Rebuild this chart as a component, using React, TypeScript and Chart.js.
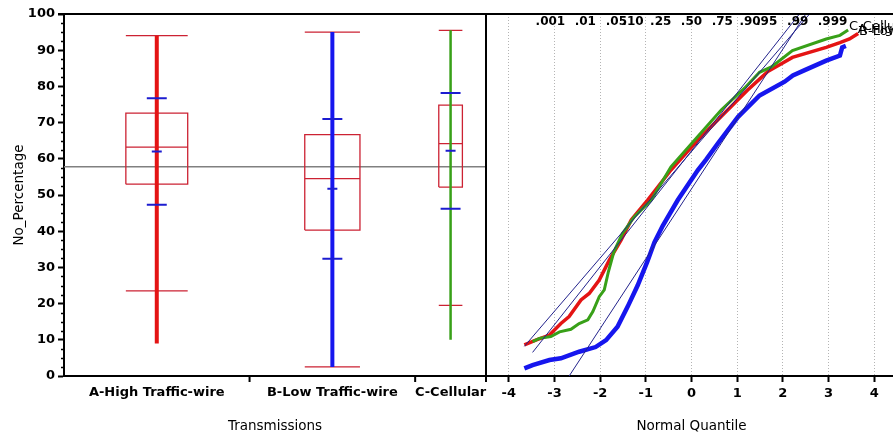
import React, { useEffect, useRef } from 'react';
import { Chart, registerables } from 'chart.js';

Chart.register(...registerables);

// ---------- data: one-way analysis (left panel) ----------
const groupNames = ['A-High Traffic-wire', 'B-Low Traffic-wire', 'C-Cellular'];
const groupWidths = [186, 166, 71]; // group widths (proportional to sample size)
const groupColors = ['#e41414', '#1616ee', '#38a018'];
const pointMin = [9, 2.5, 10];
const pointMax = [94, 95, 95.5];
const whiskerLow = [23.5, 2.5, 19.5];
const whiskerHigh = [94, 95, 95.5];
const quartile1 = [53, 40.3, 52.2];
const medianVals = [63.2, 54.5, 64.2];
const quartile3 = [72.6, 66.7, 74.8];
const meanVals = [62, 51.7, 62.2];
const sdVals = [14.7, 19.3, 16.0];
const grandMean = 57.8;

// ---------- data: normal quantile plot (right panel) ----------
const quantileTicks = [-4, -3, -2, -1, 0, 1, 2, 3, 4];
const probLabels = ['.001', '.01', '.05', '.10', '.25', '.50', '.75', '.90', '.95', '.99', '.999'];
const probQuantiles = [-3.09, -2.326, -1.645, -1.282, -0.674, 0, 0.674, 1.282, 1.645, 2.326, 3.09];

const quantA = [-3.66, -3.41, -3.11, -2.86, -2.68, -2.42, -2.24, -2.02, -1.8, -1.54, -1.32, -1.07, -0.96, -0.45, -0.26, 0.14, 0.72, 1.23, 1.49, 1.67, 2.21, 2.95, 3.25, 3.46, 3.65];
const valueA = [8.6, 9.9, 11.3, 14.5, 16.4, 21, 22.8, 26.5, 32, 37.6, 43.1, 46.9, 48.6, 56.9, 59.6, 65.2, 72.6, 79, 82, 84.1, 88, 90.8, 92.1, 93.1, 94.6];

const quantB = [-3.66, -3.48, -3.11, -2.86, -2.46, -2.1, -1.87, -1.62, -1.4, -1.18, -0.97, -0.81, -0.63, -0.3, 0.14, 0.32, 0.58, 1.02, 1.49, 2.04, 2.22, 2.48, 2.95, 3.25, 3.3, 3.38];
const valueB = [2.1, 3.0, 4.4, 4.9, 6.7, 8.0, 9.9, 13.6, 19.1, 25, 31.5, 37, 41.5, 48.6, 56.9, 59.8, 64.3, 71.6, 77.5, 81.3, 83, 84.5, 87.1, 88.5, 90.8, 91.2];

const quantC = [-3.48, -3.33, -3.08, -2.89, -2.64, -2.46, -2.27, -2.16, -2.02, -1.91, -1.82, -1.7, -1.51, -1.25, -0.88, -0.45, 0.07, 0.65, 1.16, 1.49, 1.75, 2.21, 2.95, 3.25, 3.43];
const valueC = [9.5, 10.4, 10.9, 12.2, 12.9, 14.5, 15.5, 17.8, 21.9, 23.8, 28.8, 34.3, 39.4, 44, 48.6, 57.8, 65.2, 73.5, 79.5, 83.9, 85.4, 89.9, 93.1, 94.1, 95.6];

const FONT = "'DejaVu Sans', sans-serif";
Chart.defaults.font.family = FONT;
Chart.defaults.font.size = 13;
Chart.defaults.color = '#000';

const tickFont = { family: FONT, size: 13, weight: 'bold' };
const titleFont = { family: FONT, size: 13.5, weight: 'normal' };

type P = { x: number; y: number | null };
const seg = (x1: number, y1: number, x2: number, y2: number): P[] => [
  { x: x1, y: y1 },
  { x: x2, y: y2 },
  { x: x2, y: null },
];

export default function App() {
  const leftRef = useRef<HTMLCanvasElement>(null);
  const rightRef = useRef<HTMLCanvasElement>(null);

  useEffect(() => {
    const total = groupWidths.reduce((a, b) => a + b, 0);
    const starts = groupWidths.map((_, i) => groupWidths.slice(0, i).reduce((a, b) => a + b, 0));
    const centers = starts.map((s, i) => s + groupWidths[i] / 2);
    const bounds = starts.map((s, i) => s + groupWidths[i]);

    const boxData: P[] = [];
    const sdData: P[] = [];
    groupNames.forEach((_, i) => {
      const c = centers[i];
      const hw = groupWidths[i] / 6;
      boxData.push(
        { x: c - hw, y: quartile1[i] },
        { x: c + hw, y: quartile1[i] },
        { x: c + hw, y: quartile3[i] },
        { x: c - hw, y: quartile3[i] },
        { x: c - hw, y: quartile1[i] },
        { x: c - hw, y: null },
      );
      boxData.push(...seg(c - hw, medianVals[i], c + hw, medianVals[i]));
      boxData.push(...seg(c - hw, whiskerLow[i], c + hw, whiskerLow[i]));
      boxData.push(...seg(c - hw, whiskerHigh[i], c + hw, whiskerHigh[i]));
      const sdw = Math.min(10, groupWidths[i] / 7);
      sdData.push(...seg(c - sdw, meanVals[i] + sdVals[i], c + sdw, meanVals[i] + sdVals[i]));
      sdData.push(...seg(c - 5, meanVals[i], c + 5, meanVals[i]));
      sdData.push(...seg(c - sdw, meanVals[i] - sdVals[i], c + sdw, meanVals[i] - sdVals[i]));
    });

    const leftDatasets: any[] = [
      { data: seg(0, grandMean, total, grandMean), borderColor: '#808080', borderWidth: 1.5, order: 6 },
      { data: boxData, borderColor: '#cc2233', borderWidth: 1.3, order: 5 },
      ...groupNames.map((_, i) => ({
        data: seg(centers[i], pointMin[i], centers[i], pointMax[i]),
        borderColor: groupColors[i],
        borderWidth: i === 2 ? 2.5 : 4,
        order: 3,
      })),
      { data: sdData, borderColor: '#1c1cd0', borderWidth: 2, order: 1 },
    ];

    const leftFrame = {
      id: 'leftFrame',
      afterDraw(chart: any) {
        const { ctx, chartArea: a, scales } = chart;
        ctx.save();
        ctx.strokeStyle = '#000';
        ctx.lineWidth = 2;
        ctx.beginPath();
        ctx.moveTo(a.left - 6, a.top);
        ctx.lineTo(a.right, a.top);
        ctx.moveTo(a.right, a.top);
        ctx.lineTo(a.right, a.bottom + 6);
        bounds.forEach((b) => {
          const x = scales.x.getPixelForValue(b);
          ctx.moveTo(x, a.bottom);
          ctx.lineTo(x, a.bottom + 6);
        });
        ctx.stroke();
        ctx.lineWidth = 1.5;
        ctx.beginPath();
        for (let v = 2.5; v < 100; v += 2.5) {
          if (Math.abs(v % 10) < 1e-6) continue;
          const y = Math.round(scales.y.getPixelForValue(v)) + 0.5;
          ctx.moveTo(a.left - 3, y);
          ctx.lineTo(a.left, y);
        }
        ctx.stroke();
        ctx.restore();
      },
    };

    const left = new Chart(leftRef.current!, {
      type: 'line',
      data: { datasets: leftDatasets },
      options: {
        animation: false,
        responsive: false,
        maintainAspectRatio: false,
        layout: { padding: { top: 14, right: 1, left: 0, bottom: 0 } },
        plugins: { legend: { display: false }, tooltip: { enabled: false } },
        elements: { point: { radius: 0 }, line: { tension: 0 } },
        spanGaps: false,
        scales: {
          x: {
            type: 'linear',
            min: 0,
            max: total,
            grid: { display: false, drawTicks: false },
            border: { display: true, color: '#000', width: 2 },
            afterBuildTicks: (s: any) => {
              s.ticks = centers.map((v) => ({ value: v }));
            },
            afterFit: (s: any) => {
              s.height = 61;
              s.paddingLeft = 0;
              s.paddingRight = 0;
            },
            ticks: {
              autoSkip: false,
              maxRotation: 0,
              padding: 9,
              font: tickFont,
              callback: (_v: any, i: number) => groupNames[i],
            },
            title: { display: true, text: 'Transmissions', font: titleFont, padding: { top: 0, bottom: 2 } },
          },
          y: {
            min: 0,
            max: 100,
            ticks: { stepSize: 10, padding: 3, font: tickFont },
            grid: { drawOnChartArea: false, drawTicks: true, tickLength: 6, color: '#000', tickWidth: 2 },
            border: { display: true, color: '#000', width: 2 },
            afterFit: (s: any) => {
              s.width = 64;
            },
            title: { display: true, text: 'No_Percentage', font: titleFont, padding: { top: 11, bottom: 0 } },
          },
        },
      } as any,
      plugins: [leftFrame],
    });

    const curve = (qs: number[], vs: number[]) => qs.map((q, i) => ({ x: q, y: vs[i] }));
    const fit = (qs: number[], m: number, s: number) => [
      { x: qs[0], y: m + s * qs[0] },
      { x: qs[qs.length - 1], y: m + s * qs[qs.length - 1] },
    ];
    const curves = [
      { q: quantA, v: valueA },
      { q: quantB, v: valueB },
      { q: quantC, v: valueC },
    ];

    const rightDatasets: any[] = [
      ...curves.map((c, i) => ({
        data: fit(c.q, meanVals[i], sdVals[i]),
        borderColor: '#23238c',
        borderWidth: 1,
        order: 1,
      })),
      { data: curve(quantB, valueB), borderColor: groupColors[1], borderWidth: 4.5, order: 4 },
      { data: curve(quantA, valueA), borderColor: groupColors[0], borderWidth: 3.5, order: 3 },
      { data: curve(quantC, valueC), borderColor: groupColors[2], borderWidth: 3, order: 2 },
    ];

    const rightFrame = {
      id: 'rightFrame',
      afterDraw(chart: any) {
        const { ctx, chartArea: a, scales } = chart;
        ctx.save();
        ctx.strokeStyle = '#000';
        ctx.lineWidth = 2;
        ctx.beginPath();
        ctx.moveTo(0, a.top);
        ctx.lineTo(chart.width, a.top);
        ctx.stroke();
        ctx.fillStyle = '#000';
        ctx.font = `bold 12px ${FONT}`;
        ctx.textAlign = 'center';
        ctx.textBaseline = 'middle';
        probLabels.forEach((t, i) => {
          ctx.fillText(t, scales.x.getPixelForValue(probQuantiles[i]), a.top + 8);
        });
        ctx.textAlign = 'left';
        ctx.font = `13px ${FONT}`;
        ctx.fillText('C-Cellular', scales.x.getPixelForValue(3.45), scales.y.getPixelForValue(96.6));
        ctx.fillText('A-High Traffic-wire', scales.x.getPixelForValue(3.64), scales.y.getPixelForValue(95.8));
        ctx.fillText('B-Low Traffic-wire', scales.x.getPixelForValue(3.67), scales.y.getPixelForValue(95.0));
        ctx.restore();
      },
    };

    const right = new Chart(rightRef.current!, {
      type: 'line',
      data: { datasets: rightDatasets },
      options: {
        animation: false,
        responsive: false,
        maintainAspectRatio: false,
        layout: { padding: { top: 14, right: 0, left: 0, bottom: 0 } },
        plugins: { legend: { display: false }, tooltip: { enabled: false } },
        elements: { point: { radius: 0 }, line: { tension: 0 } },
        scales: {
          x: {
            type: 'linear',
            min: -4.5,
            max: 4.5,
            afterBuildTicks: (s: any) => {
              s.ticks = quantileTicks.map((v) => ({ value: v }));
            },
            afterFit: (s: any) => {
              s.height = 61;
              s.paddingLeft = 0;
              s.paddingRight = 0;
            },
            grid: {
              display: true,
              drawOnChartArea: true,
              drawTicks: true,
              tickLength: 6,
              color: '#b4b4b4',
              lineWidth: 1,
              tickColor: '#000',
              tickWidth: 2,
            },
            border: { display: true, color: '#000', width: 2, dash: [1, 2] },
            ticks: { autoSkip: false, maxRotation: 0, padding: 4, font: tickFont },
            title: { display: true, text: 'Normal Quantile', font: titleFont, padding: { top: 0, bottom: 2 } },
          },
          y: { min: 0, max: 100, display: false },
        },
      } as any,
      plugins: [rightFrame],
    });

    return () => {
      left.destroy();
      right.destroy();
    };
  }, []);

  return (
    <div
      style={{
        position: 'absolute',
        left: 0,
        top: 0,
        width: 893,
        height: 437,
        overflow: 'hidden',
        background: '#fff',
      }}
    >
      <canvas
        ref={leftRef}
        width={487}
        height={437}
        style={{ position: 'absolute', left: 0, top: 0, display: 'block' }}
      />
      <canvas
        ref={rightRef}
        width={411}
        height={437}
        style={{ position: 'absolute', left: 486, top: 0, display: 'block' }}
      />
    </div>
  );
}
